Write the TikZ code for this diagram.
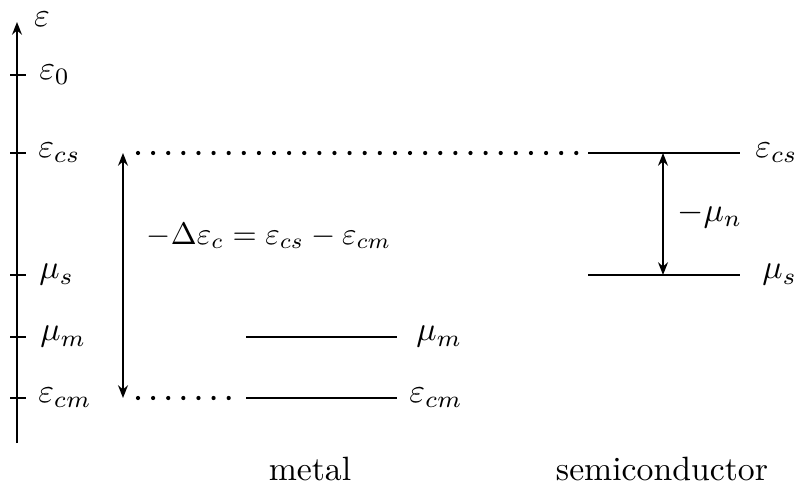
\documentclass[tikz,border=0pt]{standalone}
\usepackage{amsmath,amssymb}
\usetikzlibrary{arrows.meta}

\begin{document}
\begin{tikzpicture}[auto, >={Stealth[length=3.6pt,width=2.8pt]}, line width=0.6pt, every node/.style={scale=0.96}, band/.style={line width=0.7pt}, dotline/.style={line width=1.2pt, line cap=round, dash pattern=on 0pt off 4.3pt}]
\useasboundingbox (0,0) rectangle (7.95,4.91);

  % Define coordinates for the axis, ticks and levels
\coordinate (ax0) at (0.17,0.48); \coordinate (ax1) at (0.17,4.69); \node (eps) at (0.42,4.72) {$\varepsilon$};
\coordinate (t0l) at (0.10,4.16); \coordinate (t0r) at (0.26,4.16); \coordinate (t1l) at (0.10,3.38); \coordinate (t1r) at (0.26,3.38); \coordinate (t2l) at (0.10,2.16); \coordinate (t2r) at (0.26,2.16); \coordinate (t3l) at (0.10,1.54); \coordinate (t3r) at (0.26,1.54); \coordinate (t4l) at (0.10,0.93); \coordinate (t4r) at (0.26,0.93);
\node[right] (Le0) at (0.27,4.16) {$\varepsilon_0$}; \node[right] (Lecs) at (0.26,3.38) {$\varepsilon_{cs}$}; \node[right] (Lmus) at (0.27,2.16) {$\mu_s$}; \node[right] (Lmum) at (0.28,1.54) {$\mu_m$}; \node[right] (Lecm) at (0.26,0.93) {$\varepsilon_{cm}$};
\coordinate (dc0) at (1.23,3.38); \coordinate (dc1) at (1.23,0.93); \coordinate (dt0) at (1.38,3.38); \coordinate (dt1) at (5.81,3.38); \coordinate (db0) at (1.38,0.93); \coordinate (db1) at (2.32,0.93);
\coordinate (s0) at (5.88,3.38); \coordinate (s1) at (7.40,3.38); \coordinate (s2) at (5.88,2.16); \coordinate (s3) at (7.40,2.16); \coordinate (sa0) at (6.63,3.38); \coordinate (sa1) at (6.63,2.16);
\coordinate (m0) at (2.46,1.54); \coordinate (m1) at (3.97,1.54); \coordinate (m2) at (2.46,0.93); \coordinate (m3) at (3.97,0.93);
\node[right] (Recs) at (7.43,3.38) {$\varepsilon_{cs}$}; \node[right] (Rmus) at (7.50,2.16) {$\mu_s$}; \node[right] (Rmum) at (4.04,1.54) {$\mu_m$}; \node[right] (Recm) at (3.97,0.93) {$\varepsilon_{cm}$};
\node[scale=0.92] (dEc) at (2.69,2.55) {$-\Delta\varepsilon_c=\varepsilon_{cs}-\varepsilon_{cm}$}; \node[right] (mun) at (6.65,2.76) {$-\mu_n$};
\node (metal) at (3.10,0.22) {metal}; \node (semi) at (6.62,0.22) {semiconductor};

  % Draw axis, levels and arrows
\draw[->] (ax0) -- (ax1); \draw (t0l) -- (t0r); \draw (t1l) -- (t1r); \draw (t2l) -- (t2r); \draw (t3l) -- (t3r); \draw (t4l) -- (t4r);
\draw[<->] (dc0) -- (dc1); \draw[dotline] (dt0) -- (dt1); \draw[dotline] (db0) -- (db1);
\draw[band] (s0) -- (s1); \draw[band] (s2) -- (s3); \draw[<->] (sa0) -- (sa1);
\draw[band] (m0) -- (m1); \draw[band] (m2) -- (m3);

\end{tikzpicture}
\end{document}
